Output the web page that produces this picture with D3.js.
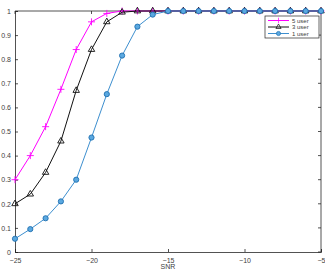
<!DOCTYPE html>
<html>
<head>
<meta charset="utf-8">
<script src="https://cdn.jsdelivr.net/npm/d3@7"></script>
<style>
  body { margin: 0; background: #fff; }
  text { font-family: "Liberation Sans", Arial, sans-serif; }
</style>
</head>
<body>
<div id="chart"></div>
<script>
// chart values
const snr = [-25, -24, -23, -22, -21, -20, -19, -18, -17, -16, -15, -14, -13, -12, -11, -10, -9, -8, -7, -6, -5];
const user5 = [0.30, 0.40, 0.52, 0.675, 0.84, 0.955, 0.99, 1, 1, 1, 1, 1, 1, 1, 1, 1, 1, 1, 1, 1, 1];
const user3 = [0.20, 0.24, 0.33, 0.46, 0.67, 0.84, 0.955, 0.995, 1, 1, 1, 1, 1, 1, 1, 1, 1, 1, 1, 1, 1];
const user1 = [0.055, 0.095, 0.14, 0.21, 0.30, 0.475, 0.655, 0.815, 0.935, 0.985, 1, 1, 1, 1, 1, 1, 1, 1, 1, 1, 1];
const xTicks = [-25, -20, -15, -10, -5];
const yTicks = [0, 0.1, 0.2, 0.3, 0.4, 0.5, 0.6, 0.7, 0.8, 0.9, 1];

const width = 325, height = 276;
const margin = { top: 11, right: 4, bottom: 24, left: 15 };

const svg = d3.select("#chart").append("svg")
    .attr("width", width)
    .attr("height", height);

const x = d3.scaleLinear().domain([-25, -5]).range([margin.left, width - margin.right]);
const y = d3.scaleLinear().domain([0, 1]).range([height - margin.bottom, margin.top]);

// box (top / right)
svg.append("line")
    .attr("x1", x(-25)).attr("x2", x(-5))
    .attr("y1", y(1)).attr("y2", y(1))
    .attr("stroke", "#262626").attr("stroke-width", 0.8);
svg.append("line")
    .attr("x1", x(-5)).attr("x2", x(-5))
    .attr("y1", y(1)).attr("y2", y(0))
    .attr("stroke", "#262626").attr("stroke-width", 0.8);

// axes
const xAxis = svg.append("g")
    .attr("transform", `translate(0,${y(0)})`)
    .call(d3.axisBottom(x).tickValues(xTicks).tickSize(-3).tickPadding(6).tickFormat(d3.format("d")));
const yAxis = svg.append("g")
    .attr("transform", `translate(${x(-25)},0)`)
    .call(d3.axisLeft(y).tickValues(yTicks).tickSize(-3).tickPadding(4).tickFormat(d => d === 0 || d === 1 ? d : d3.format(".1f")(d)));

[xAxis, yAxis].forEach(g => {
    g.select(".domain").attr("stroke", "#262626").attr("stroke-width", 0.8);
    g.selectAll(".tick line").attr("stroke", "#262626").attr("stroke-width", 0.8);
    g.selectAll(".tick text").attr("fill", "#404040").style("font-size", "7px");
});

// top / right ticks
svg.selectAll(".xt-top").data(xTicks).enter().append("line")
    .attr("x1", d => x(d)).attr("x2", d => x(d))
    .attr("y1", y(1)).attr("y2", y(1) + 3)
    .attr("stroke", "#262626").attr("stroke-width", 0.8);
svg.selectAll(".yt-right").data(yTicks).enter().append("line")
    .attr("x1", x(-5)).attr("x2", x(-5) - 3)
    .attr("y1", d => y(d)).attr("y2", d => y(d))
    .attr("stroke", "#262626").attr("stroke-width", 0.8);

svg.append("text")
    .attr("x", x(-15)).attr("y", height - 7)
    .attr("text-anchor", "middle")
    .attr("fill", "#404040")
    .style("font-size", "7px")
    .text("SNR");

const series = [
    { name: "5 user", values: user5, color: "#ff00ff", marker: "plus" },
    { name: "3 user", values: user3, color: "#111111", marker: "triangle" },
    { name: "1 user", values: user1, color: "#3d8fcf", marker: "circle" }
];

const line = d3.line().x((d, i) => x(snr[i])).y(d => y(d));

function drawMarker(g, type, color) {
    if (type === "plus") {
        g.append("path").attr("d", "M-3.5,0H3.5M0,-3.5V3.5")
            .attr("stroke", color).attr("stroke-width", 0.9).attr("fill", "none");
    } else if (type === "triangle") {
        g.append("path").attr("d", d3.symbol().type(d3.symbolTriangle).size(18)())
            .attr("stroke", color).attr("stroke-width", 0.9).attr("fill", "none");
    } else {
        g.append("circle").attr("r", 2.6)
            .attr("stroke", "#1f6fb0").attr("stroke-width", 0.9).attr("fill", "#5aa8e0");
    }
}

// each series drawn in legend order, 1 user ends up on top
series.forEach(s => {
    svg.append("path")
        .datum(s.values)
        .attr("d", line)
        .attr("fill", "none")
        .attr("stroke", s.color)
        .attr("stroke-width", 1);
    s.values.forEach((v, i) => {
        const g = svg.append("g").attr("transform", `translate(${x(snr[i])},${y(v)})`);
        drawMarker(g, s.marker, s.color);
    });
});

// legend
const lg = svg.append("g").attr("transform", "translate(265,16)");
lg.append("rect")
    .attr("width", 54).attr("height", 22)
    .attr("fill", "#fff").attr("stroke", "#262626").attr("stroke-width", 0.7);
series.forEach((s, i) => {
    const row = lg.append("g").attr("transform", `translate(0,${4.5 + i * 6.5})`);
    row.append("line").attr("x1", 3).attr("x2", 24).attr("y1", 0).attr("y2", 0)
        .attr("stroke", s.color).attr("stroke-width", 1);
    const m = row.append("g").attr("transform", "translate(13.5,0) scale(0.8)");
    drawMarker(m, s.marker, s.color);
    row.append("text").attr("x", 27).attr("y", 2.2)
        .attr("fill", "#404040").style("font-size", "6px")
        .text(s.name);
});
</script>
</body>
</html>
